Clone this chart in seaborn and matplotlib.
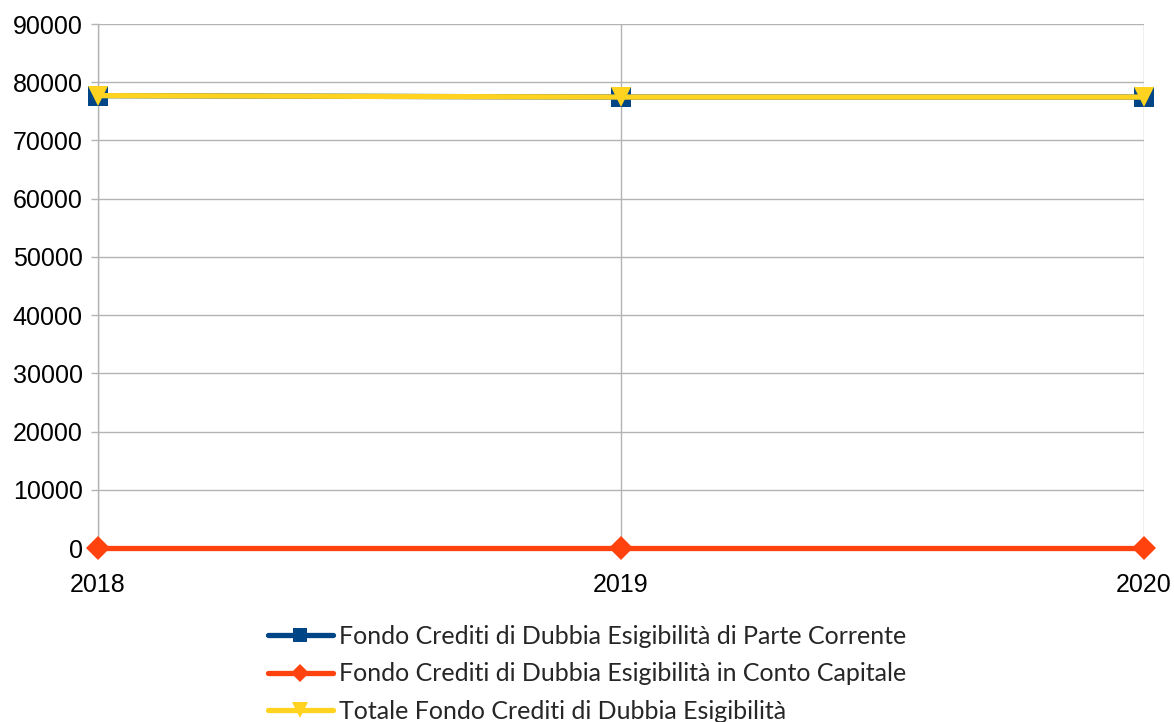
import matplotlib
matplotlib.use("Agg")
import matplotlib.pyplot as plt
import seaborn as sns
import pandas as pd

# Data
years = [2018, 2019, 2020]
parte_corrente = [77700, 77450, 77450]
conto_capitale = [0, 0, 0]
totale = [77700, 77450, 77450]

series_names = [
    "Fondo Crediti di Dubbia Esigibilità di Parte Corrente",
    "Fondo Crediti di Dubbia Esigibilità in Conto Capitale",
    "Totale Fondo Crediti di Dubbia Esigibilità",
]
series_values = [parte_corrente, conto_capitale, totale]
colors = ["#004586", "#ff420e", "#ffd320"]
markers = ["s", "D", "v"]
marker_sizes = [14, 12, 15]

sns.set_theme(style="white")
plt.rcParams["font.family"] = ["Liberation Sans", "DejaVu Sans"]

fig = plt.figure(figsize=(11.74, 7.22), dpi=100)
ax = fig.add_axes([98 / 1174, 1 - 548 / 722, (1144 - 98) / 1174, (548 - 24) / 722])

for name, vals, c, m, ms in zip(series_names, series_values, colors, markers, marker_sizes):
    df = pd.DataFrame({"year": years, "value": vals})
    sns.lineplot(data=df, x="year", y="value", ax=ax, color=c, linewidth=3.8,
                 marker=m, markersize=ms, markeredgewidth=0, label=name,
                 clip_on=False, zorder=3)

ax.set_xlim(2018, 2020)
ax.set_ylim(0, 90000)
ax.set_xticks(years)
ax.set_xticklabels([str(y) for y in years])
ax.set_yticks(range(0, 90001, 10000))
ax.set_xlabel("")
ax.set_ylabel("")
ax.grid(True, color="#b3b3b3", linewidth=1)
ax.set_axisbelow(True)
for side in ["top", "right"]:
    ax.spines[side].set_visible(False)
for side in ["left", "bottom"]:
    ax.spines[side].set_color("#b3b3b3")
    ax.spines[side].set_linewidth(1)
ax.tick_params(axis="both", labelsize=18, colors="#b3b3b3", labelcolor="black",
               length=5, width=1, direction="out", left=True, bottom=True)
ax.tick_params(axis="x", pad=13)
ax.tick_params(axis="y", pad=6)

ax.get_legend().remove()
handles, labels = ax.get_legend_handles_labels()
fig.legend(handles, labels, loc="upper center", bbox_to_anchor=(0.5, 0.152),
           frameon=False, ncol=1, prop={"family": ["Lato", "DejaVu Sans"], "size": 18},
           handlelength=2.6, handletextpad=0.25, labelspacing=0.58, borderpad=0,
           markerscale=0.75)

fig.savefig("out.png", dpi=100)
